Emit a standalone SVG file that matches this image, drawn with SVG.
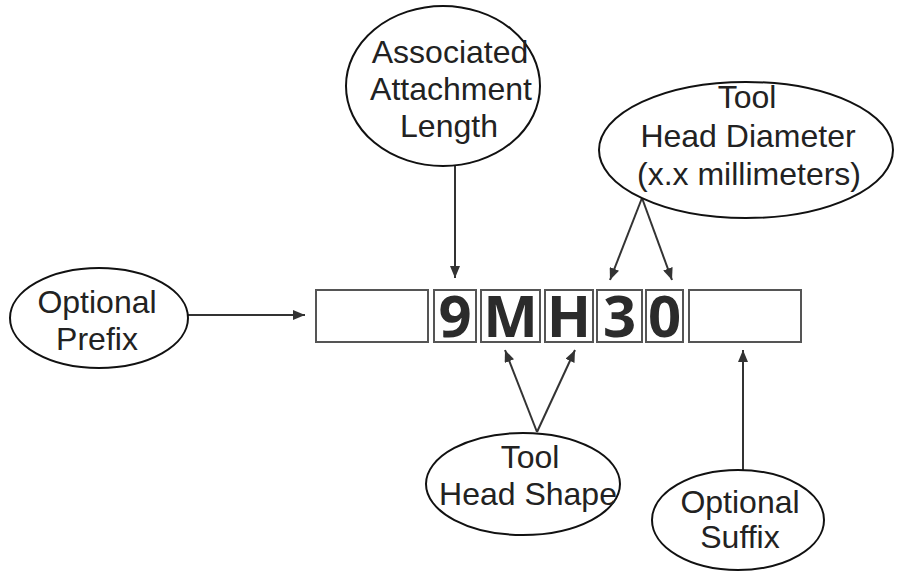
<svg xmlns="http://www.w3.org/2000/svg" width="897" height="573" viewBox="0 0 897 573">
<defs>
<marker id="ah" viewBox="0 0 12 10" refX="12" refY="5" markerWidth="12" markerHeight="10" markerUnits="userSpaceOnUse" orient="auto">
<path d="M0,0 L12,5 L0,10 Z" fill="#333"/>
</marker>
<style>
.ell{fill:#fff;stroke:#111;stroke-width:2}
.lbl{font-family:"Liberation Sans",Arial,sans-serif;font-size:32px;fill:#222;text-anchor:middle}
.box{fill:#fff;stroke:#555;stroke-width:2}
.ch{font-family:"Open Sans","DejaVu Sans",sans-serif;font-weight:bold;font-size:58px;fill:#2b2b2b;text-anchor:middle}
.con{stroke:#333;stroke-width:2;fill:none;marker-end:url(#ah)}
</style>
</defs>
<rect width="897" height="573" fill="#fff"/>
<g id="code">
<rect class="box" x="316" y="290" width="112" height="52"/>
<rect class="box" x="434" y="290" width="42" height="52"/>
<rect class="box" x="481" y="290" width="59" height="52"/>
<rect class="box" x="545" y="290" width="48" height="52"/>
<rect class="box" x="597" y="290" width="45" height="52"/>
<rect class="box" x="646" y="290" width="37" height="52"/>
<rect class="box" x="689" y="290" width="112" height="52"/>
<text class="ch" x="455" y="337">9</text>
<text class="ch" x="510.5" y="337">M</text>
<text class="ch" x="569" y="337">H</text>
<text class="ch" x="619.5" y="337">3</text>
<text class="ch" x="664.5" y="337">0</text>
</g>
<g id="connectors">
<line class="con" x1="455" y1="166" x2="455" y2="278"/>
<line class="con" x1="642" y1="198" x2="610" y2="280"/>
<line class="con" x1="642" y1="198" x2="672" y2="280"/>
<line class="con" x1="188" y1="315" x2="305" y2="315"/>
<line class="con" x1="537" y1="432" x2="505" y2="350"/>
<line class="con" x1="537" y1="432" x2="575" y2="350"/>
<line class="con" x1="743" y1="470" x2="743" y2="350"/>
</g>
<g id="attachment-length">
<ellipse class="ell" cx="443" cy="86" rx="97" ry="80"/>
<text class="lbl" x="450" y="63">Associated</text>
<text class="lbl" x="451" y="100">Attachment</text>
<text class="lbl" x="449" y="137">Length</text>
</g>
<g id="head-diameter">
<ellipse class="ell" cx="746" cy="150" rx="147" ry="68"/>
<text class="lbl" x="747" y="108">Tool</text>
<text class="lbl" x="748" y="147">Head Diameter</text>
<text class="lbl" x="749" y="185">(x.x millimeters)</text>
</g>
<g id="prefix">
<ellipse class="ell" cx="99" cy="318" rx="89" ry="50"/>
<text class="lbl" x="97" y="313">Optional</text>
<text class="lbl" x="97" y="350">Prefix</text>
</g>
<g id="head-shape">
<ellipse class="ell" cx="523" cy="484" rx="97" ry="51"/>
<text class="lbl" x="530" y="468">Tool</text>
<text class="lbl" x="528" y="505">Head Shape</text>
</g>
<g id="suffix">
<ellipse class="ell" cx="738" cy="520" rx="86" ry="50"/>
<text class="lbl" x="740" y="513">Optional</text>
<text class="lbl" x="740" y="548">Suffix</text>
</g>
</svg>
